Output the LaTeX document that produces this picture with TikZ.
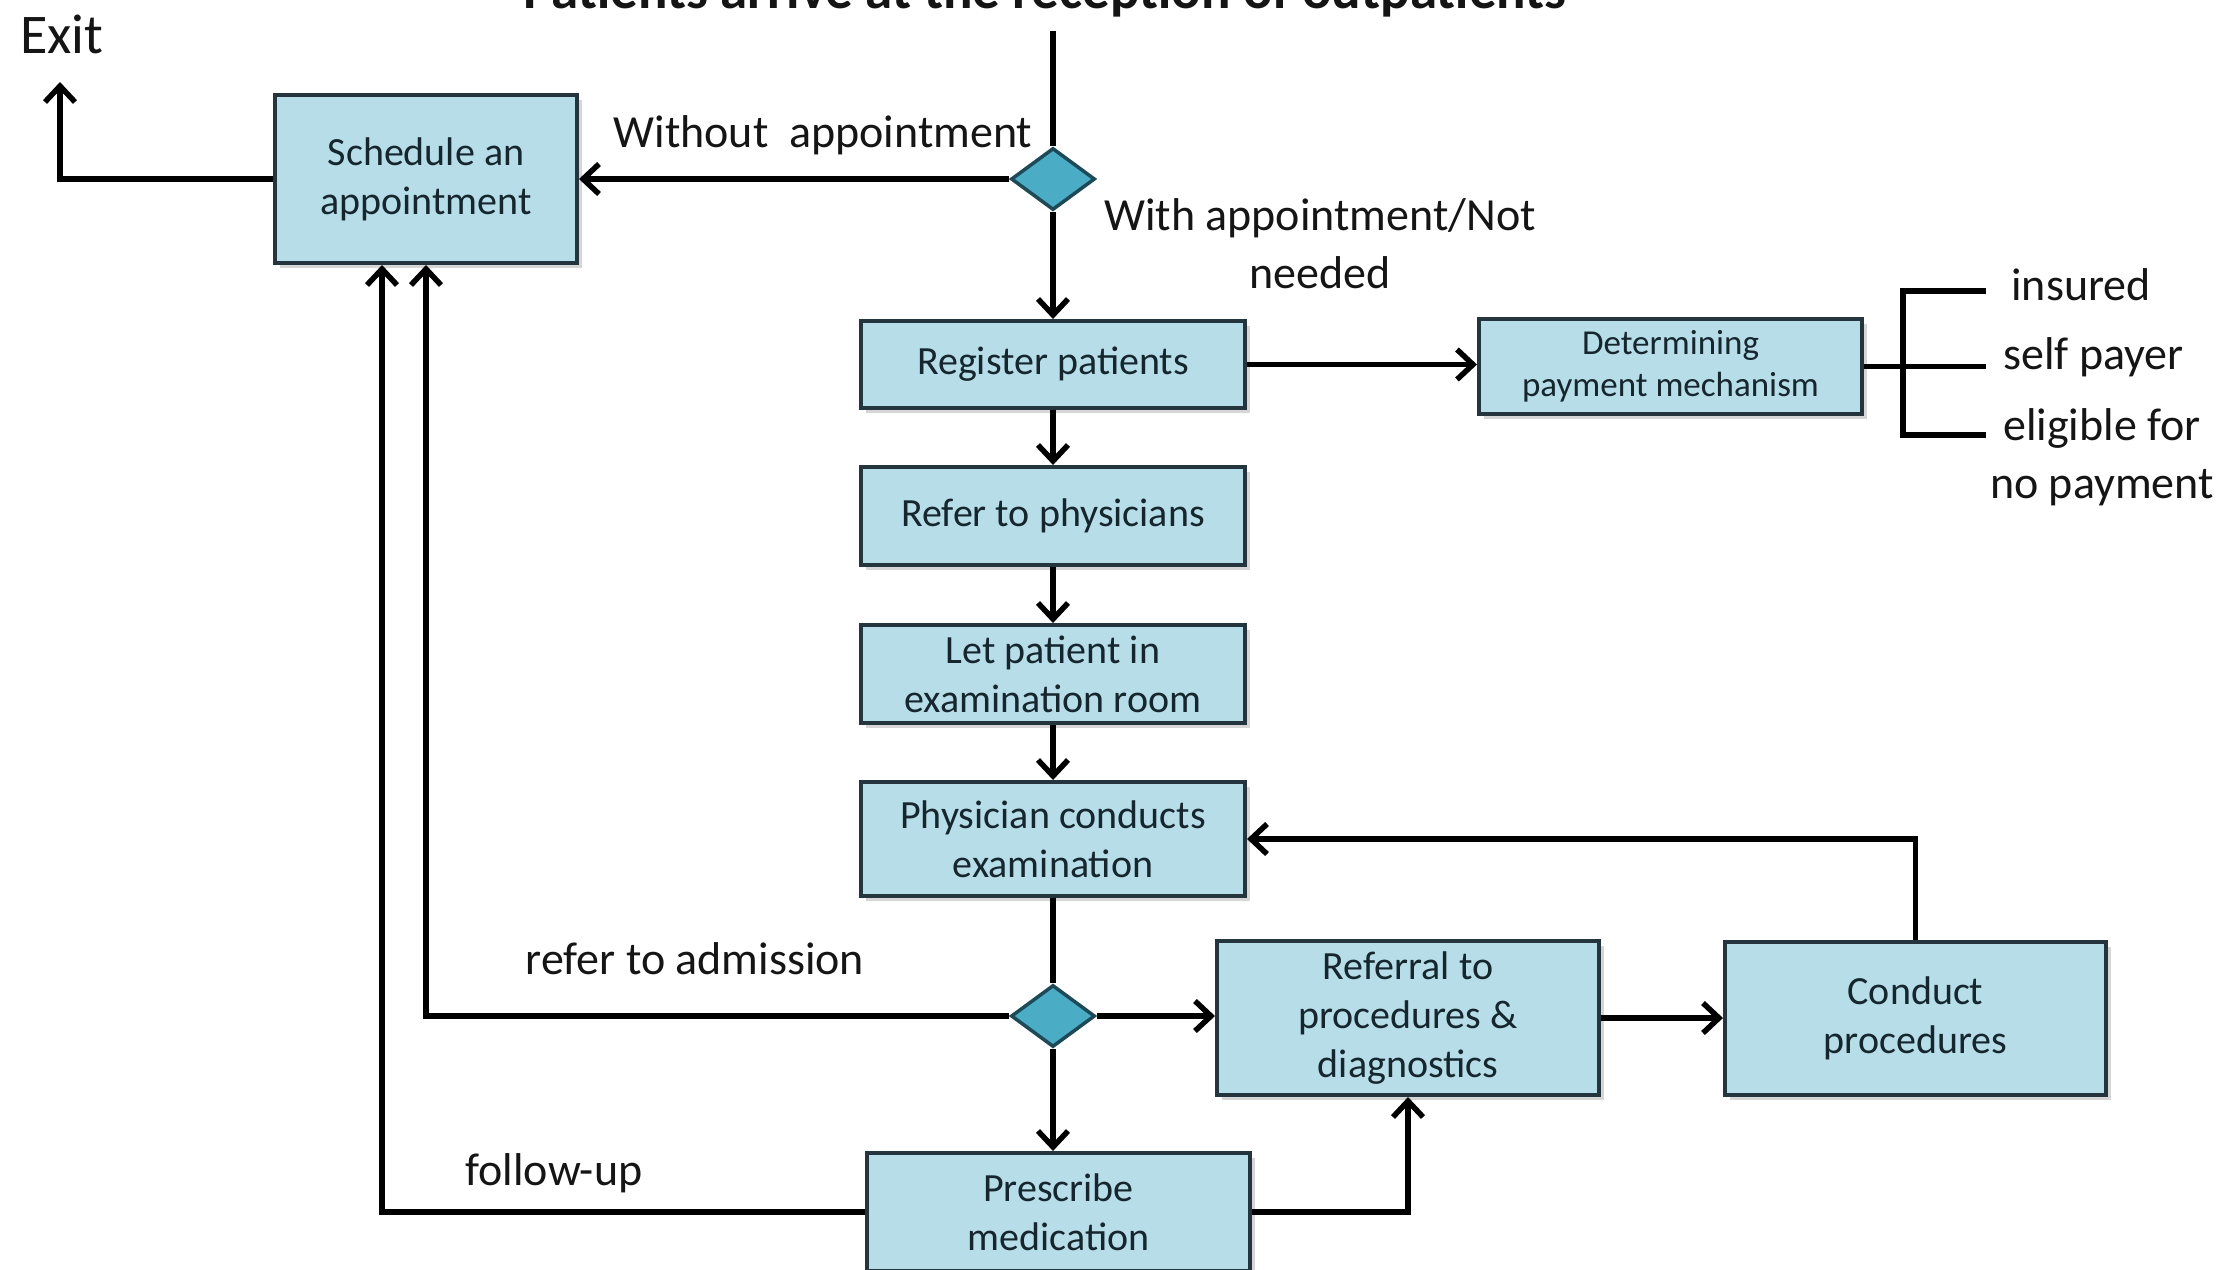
\documentclass[tikz,border=0pt]{standalone}
\usepackage{fontspec}
\setmainfont{Carlito}
\usetikzlibrary{arrows.meta,shapes.geometric,shadows}
\definecolor{boxfill}{HTML}{B7DDE8}
\definecolor{boxline}{HTML}{24353E}
\definecolor{dfill}{HTML}{4BACC6}
\definecolor{dline}{HTML}{1E4A58}
\definecolor{btext}{HTML}{15262E}
\definecolor{ltext}{HTML}{151515}
\begin{document}
\begin{tikzpicture}[x=1pt,y=-1pt,
  box/.style={draw=boxline, line width=4pt, fill=boxfill, text=btext, align=center, inner sep=0pt,
    font=\fontsize{40}{49}\selectfont,
    drop shadow={shadow xshift=5pt, shadow yshift=-5pt, fill=black!35, opacity=.45}},
  dec/.style={diamond, draw=dline, line width=3.5pt, fill=dfill, minimum width=84pt, minimum height=62pt, inner sep=0pt},
  lbl/.style={text=ltext, align=center, font=\fontsize{46}{58}\selectfont, inner sep=0pt},
  conn/.style={line width=5.5pt, black},
  arr/.style={conn, -{Straight Barb[length=16pt,width=30pt]}}
]
\useasboundingbox (0,0) rectangle (2224,1269);
\fill[white] (0,0) rectangle (2224,1269);

% title (cut at top edge, as in the reference)
\node[font=\bfseries\fontsize{55}{60}\selectfont, anchor=base, inner sep=0pt, text=ltext] (title) at (1045,8) {Patients arrive at the reception of outpatients};

% boxes
\node[box, minimum width=302pt, minimum height=168pt] (sched) at (426,179) {Schedule an\\appointment};
\node[dec] (d1) at (1053,179) {};
\coordinate (top) at (1053,31);
\node[box, minimum width=384pt, minimum height=87pt] (reg) at (1053,364.5) {Register patients};
\node[box, minimum width=383pt, minimum height=95pt, font=\fontsize{35}{42}\selectfont] (pay) at (1670.5,366.5) {Determining\\payment mechanism};
\node[box, minimum width=384pt, minimum height=98pt] (ref) at (1053,516) {Refer to physicians};
\node[box, minimum width=384pt, minimum height=98pt] (let) at (1053,674) {Let patient in\\examination room};
\node[box, minimum width=384pt, minimum height=114pt] (phys) at (1053,839) {Physician conducts\\examination};
\node[dec] (d2) at (1053,1016) {};
\node[box, minimum width=382pt, minimum height=154pt] (refd) at (1408,1018) {Referral to\\procedures \&\\diagnostics};
\node[box, minimum width=381pt, minimum height=153pt] (cond) at (1915.5,1018) {Conduct\\procedures};
\node[box, minimum width=383pt, minimum height=118pt] (pres) at (1058.5,1212) {Prescribe\\medication};

% bracket coordinates
\coordinate (bt) at (1903,291);
\coordinate (bb) at (1903,435);
\coordinate (btr) at (1986,291);
\coordinate (bbr) at (1986,435);
\coordinate (bmr) at (1986,366.5);
\coordinate (exit) at (60,82);

% connectors
\draw[conn] (top) -- (d1.north);
\draw[arr] (d1.west) -- (sched.east);
\draw[arr] (d1.south) -- (reg.north);
\draw[arr] (reg.east) -- (reg.east -| pay.west);
\draw[arr] (reg.south) -- (ref.north);
\draw[arr] (ref.south) -- (let.north);
\draw[arr] (let.south) -- (phys.north);
\draw[conn] (phys.south) -- (d2.north);
\draw[arr] (d2.east) -- (d2.east -| refd.west);
\draw[arr] (d2.south) -- (d2.south |- pres.north);
\draw[arr] (refd.east) -- (refd.east -| cond.west);
\draw[arr] (cond.north) |- (phys.east);
\draw[arr] (pres.east) -| (refd.south);
\draw[arr] (pres.west) -| ([xshift=-44pt]sched.south);
\draw[arr] (d2.west) -| (sched.south);
\draw[arr] (sched.west) -| (exit);
\draw[conn] (pay.east) -- (bmr);
\draw[conn] (btr) -- (bt) -- (bb) -- (bbr);

% labels
\node[lbl, font=\fontsize{56}{60}\selectfont] (lexit) at (62,34) {Exit};
\node[lbl] (lwo) at (823,135) {Without\ \ appointment};
\node[lbl] (lwith) at (1320,244) {With appointment/Not\\needed};
\node[lbl] (ladm) at (695,959) {refer to admission};
\node[lbl] (lfol) at (554,1173) {follow-up};
\node[lbl] (lins) at (2081,285) {insured};
\node[lbl, anchor=west] (lself) at (2003,357) {self payer};
\node[lbl] (lelig) at (2102,457) {eligible for\\no payment};
\end{tikzpicture}
\end{document}
